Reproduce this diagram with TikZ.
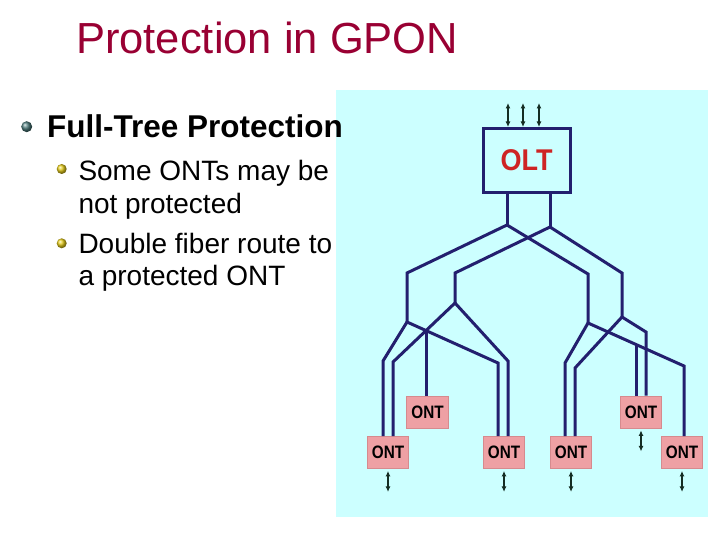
\documentclass[tikz,border=0pt]{standalone}
\usepackage{fontspec}
\setmainfont{Liberation Sans}
\usepackage{graphicx}
\usetikzlibrary{arrows.meta}
\tikzset{>={Latex[length=4,width=4]}}
\usetikzlibrary{calc}
\definecolor{panelcyan}{RGB}{204,255,255}
\definecolor{fibre}{RGB}{35,31,110}
\definecolor{ontpink}{RGB}{238,160,164}
\definecolor{ontedge}{RGB}{214,138,142}
\definecolor{iogreen}{RGB}{20,45,35}
\definecolor{oltred}{RGB}{206,36,36}
\definecolor{titlered}{RGB}{153,0,51}
\tikzset{
  fiber/.style={line width=3pt,draw=fibre},
  io/.style={{Latex[length=5.5pt,width=5pt]}-{Latex[length=5.5pt,width=5pt]},
    line width=1.8pt,draw=iogreen},
  ontbox/.style={draw=ontedge,line width=0.8pt,fill=ontpink,
    minimum width=41.5pt,minimum height=32pt,inner sep=0pt,
    font=\fontsize{18}{18}\selectfont\bfseries},
  oltbox/.style={draw=fibre,line width=3pt,minimum width=87pt,
    minimum height=64pt,inner sep=0pt,text=oltred,
    font=\fontsize{30}{30}\selectfont\bfseries},
  txt/.style={anchor=base west,inner sep=0pt}
}
\newcommand{\ontlabel}{\scalebox{0.85}[1]{ONT}}
\begin{document}
\begin{tikzpicture}[x=1pt,y=-1pt]
\useasboundingbox (0,0) rectangle (720,540);
\fill[panelcyan] (336,90) rectangle (708,517);

% OLT and the ONTs
\node[oltbox] (olt) at (526.5,160.5) {\scalebox{0.9}[1]{OLT}};
\node[ontbox] (ont1) at (388,452.5) {\ontlabel};
\node[ontbox] (ont2) at (427.5,412) {\ontlabel};
\node[ontbox] (ont3) at (504,452.5) {\ontlabel};
\node[ontbox] (ont4) at (571,452.5) {\ontlabel};
\node[ontbox] (ont5) at (641,412) {\ontlabel};
\node[ontbox] (ont6) at (682,452.5) {\ontlabel};

% splitters and bends
\coordinate (s1) at (507,225);
\coordinate (s2) at (550,227);
\coordinate (b1) at (407,273);
\coordinate (b2) at (455,273);
\coordinate (b3) at (588,274);
\coordinate (b4) at (622,273);
\coordinate (sA) at (407,322);
\coordinate (sB) at (455,303);
\coordinate (sC) at (588,323);
\coordinate (sD) at (622,317);
\coordinate (kA1) at (383,361);
\coordinate (kA2) at (498,363);
\coordinate (kB1) at (393,362);
\coordinate (kB2) at (508,361);
\coordinate (kC1) at (565,363);
\coordinate (kC2) at (684,366);
\coordinate (kD1) at (575,368);
\coordinate (kD2) at (646,332);

% first stage
\draw[fiber] (olt.south -| s1) -- (s1);
\draw[fiber] (olt.south -| s2) -- (s2);
\draw[fiber] (sA) -- (b1) -- (s1) -- (b3) -- (sC);
\draw[fiber] (sB) -- (b2) -- (s2) -- (b4) -- (sD);

% left tree
\draw[fiber] (ont1.north -| kA1) -- (kA1) -- (sA) -- (kA2) -- (ont3.north -| kA2);
\draw[fiber] (ont1.north -| kB1) -- (kB1) -- (sB) -- (kB2) -- (ont3.north -| kB2);
\coordinate (xA) at (intersection of sA--kA2 and sB--kB1);
\draw[fiber] (xA) -- (ont2.north -| xA);

% right tree
\draw[fiber] (ont4.north -| kC1) -- (kC1) -- (sC) -- (kC2) -- (ont6.north -| kC2);
\draw[fiber] (ont4.north -| kD1) -- (kD1) -- (sD) -- (kD2) -- (ont5.north -| kD2);
\coordinate (tC) at ($(sC)!.5!(kC2)$);
\draw[fiber] (tC) -- (ont5.north -| tC);

% user side and network side
\foreach \n in {ont1,ont3,ont4,ont5,ont6}
  \draw[io] ([yshift=-2pt]\n.south) -- ++(0,21);
\foreach \dx in {-18.5,-3.5,12.5}
  \draw[io] ([xshift=\dx pt]olt.north) -- ++(0,-24);

% slide text
\node[txt,text=titlered,font=\fontsize{43.5}{43.5}\selectfont] (title) at (76,53.3) {Protection in GPON};
\shade[ball color=black!55!cyan!40!gray] (26.7,126.7) circle (5.5);
\node[txt,font=\fontsize{31.5}{31.5}\selectfont\bfseries] (item) at (47,137.3) {Full-Tree Protection};
\shade[ball color=yellow!60!brown] (61.7,169) circle (5);
\node[txt,font=\fontsize{28}{28}\selectfont] (sub1) at (78.3,181) {Some ONTs may be};
\node[txt,font=\fontsize{28}{28}\selectfont] (sub1b) at (78.3,213.3) {not protected};
\shade[ball color=yellow!60!brown] (61.7,243.3) circle (5);
\node[txt,font=\fontsize{28}{28}\selectfont] (sub2) at (78.3,253.3) {Double fiber route to};
\node[txt,font=\fontsize{28}{28}\selectfont] (sub2b) at (78.3,285) {a protected ONT};
\end{tikzpicture}
\end{document}
